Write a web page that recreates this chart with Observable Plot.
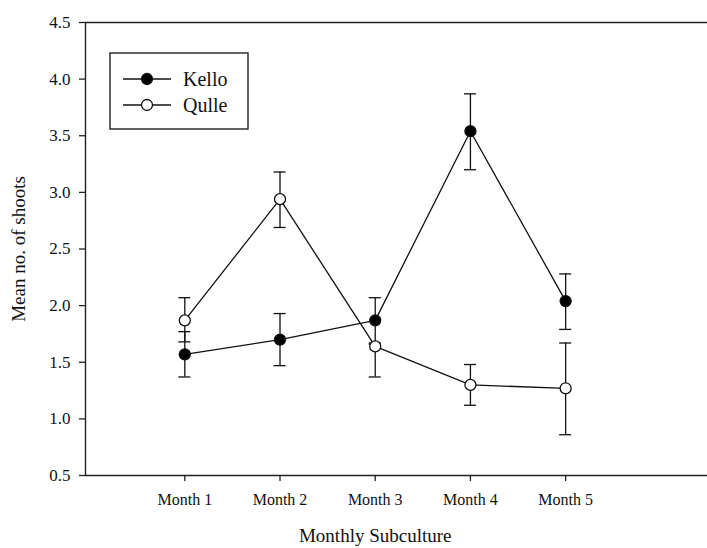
<!DOCTYPE html>
<html>
<head>
<meta charset="utf-8">
<script src="https://cdn.jsdelivr.net/npm/d3@7"></script>
<script src="https://cdn.jsdelivr.net/npm/@observablehq/plot@0.6"></script>
<style>
  html, body { margin: 0; padding: 0; background: #fff; }
  #wrap { width: 707px; height: 548px; }
</style>
</head>
<body>
<div id="wrap"></div>
<script>
// Mean number of shoots per monthly subculture, with error bars
const months = [1, 2, 3, 4, 5];
const monthLabels = ["Month 1", "Month 2", "Month 3", "Month 4", "Month 5"];

const kelloMean = [1.57, 1.70, 1.87, 3.54, 2.04];
const kelloLow  = [1.37, 1.47, 1.67, 3.20, 1.79];
const kelloHigh = [1.77, 1.93, 2.07, 3.87, 2.28];

const qulleMean = [1.87, 2.94, 1.64, 1.30, 1.27];
const qulleLow  = [1.68, 2.69, 1.37, 1.12, 0.86];
const qulleHigh = [2.07, 3.18, 1.66, 1.48, 1.67];

const yTicks = [0.5, 1.0, 1.5, 2.0, 2.5, 3.0, 3.5, 4.0, 4.5];

const series = [
  {name: "Kello", fill: "#000", mean: kelloMean, low: kelloLow, high: kelloHigh},
  {name: "Qulle", fill: "#fff", mean: qulleMean, low: qulleLow, high: qulleHigh}
];

const rows = series.flatMap(s => months.map((m, i) => ({
  series: s.name, fill: s.fill, month: m,
  mean: s.mean[i], low: s.low[i], high: s.high[i]
})));

const xDomain = [-0.043, 6.49];
const ink = "#111";
const sw = 1.3;
const serif = "'Liberation Serif', 'Times New Roman', serif";

const chart = Plot.plot({
  width: 707,
  height: 548,
  marginTop: 22,
  marginBottom: 73,
  marginLeft: 85,
  marginRight: 0,
  style: {fontFamily: serif, fontSize: "16px", color: ink, background: "#fff"},
  x: {type: "linear", domain: xDomain},
  y: {domain: [0.5, 4.5]},
  marks: [
    // frame: bottom, top and left edges
    Plot.ruleY([0.5, 4.5], {stroke: "#222", strokeWidth: 1.4}),
    Plot.ruleX([xDomain[0]], {stroke: "#222", strokeWidth: 1.4}),
    Plot.axisY({
      ticks: yTicks, tickSize: 6, tickPadding: 9, tickFormat: d3.format(".1f"),
      stroke: "#222", strokeWidth: 1.3, fontSize: 17,
      label: "Mean no. of shoots", labelAnchor: "center", labelArrow: "none", labelOffset: 74
    }),
    Plot.axisX({
      ticks: months, tickSize: 6, tickPadding: 12, tickFormat: d => monthLabels[months.indexOf(d)],
      stroke: "#222", strokeWidth: 1.3, fontSize: 16, label: null
    }),
    // x-axis title, centred under the middle month
    Plot.text(["Monthly Subculture"], {
      x: () => months[2], frameAnchor: "bottom", dy: 66, fontSize: 19, fill: ink
    }),
    // connecting lines
    Plot.line(rows, {x: "month", y: "mean", z: "series", stroke: ink, strokeWidth: sw}),
    // error bars with caps
    Plot.ruleX(rows, {x: "month", y1: "low", y2: "high", stroke: ink, strokeWidth: sw}),
    Plot.ruleY(rows, {y: "low", x1: "month", x2: "month", insetLeft: -6, insetRight: -6, stroke: ink, strokeWidth: sw}),
    Plot.ruleY(rows, {y: "high", x1: "month", x2: "month", insetLeft: -6, insetRight: -6, stroke: ink, strokeWidth: sw}),
    // points
    Plot.dot(rows, {x: "month", y: "mean", r: 5.5, fill: "fill", stroke: ink, strokeWidth: sw})
  ]
});

chart.querySelectorAll("[aria-label='y-axis label'] text")
  .forEach(t => t.setAttribute("font-size", 19));

// legend box in the upper-left corner of the plot area
const lg = d3.select(chart).append("g").attr("aria-label", "legend")
  .attr("transform", "translate(110,53)");
lg.append("rect").attr("width", 138).attr("height", 76)
  .attr("fill", "#fff").attr("stroke", "#222").attr("stroke-width", 1.4);
series.forEach((s, i) => {
  const row = lg.append("g").attr("transform", `translate(0,${26 + i * 26})`);
  row.append("line").attr("x1", 13).attr("x2", 61).attr("y1", 0).attr("y2", 0)
    .attr("stroke", ink).attr("stroke-width", sw);
  row.append("circle").attr("cx", 37).attr("cy", 0).attr("r", 5.5)
    .attr("fill", s.fill).attr("stroke", ink).attr("stroke-width", sw);
  row.append("text").attr("x", 73).attr("y", 0).attr("dy", "0.35em")
    .attr("text-anchor", "start")
    .style("font-family", serif).style("font-size", "20px").attr("fill", ink)
    .text(s.name);
});

document.getElementById("wrap").appendChild(chart);
</script>
</body>
</html>
